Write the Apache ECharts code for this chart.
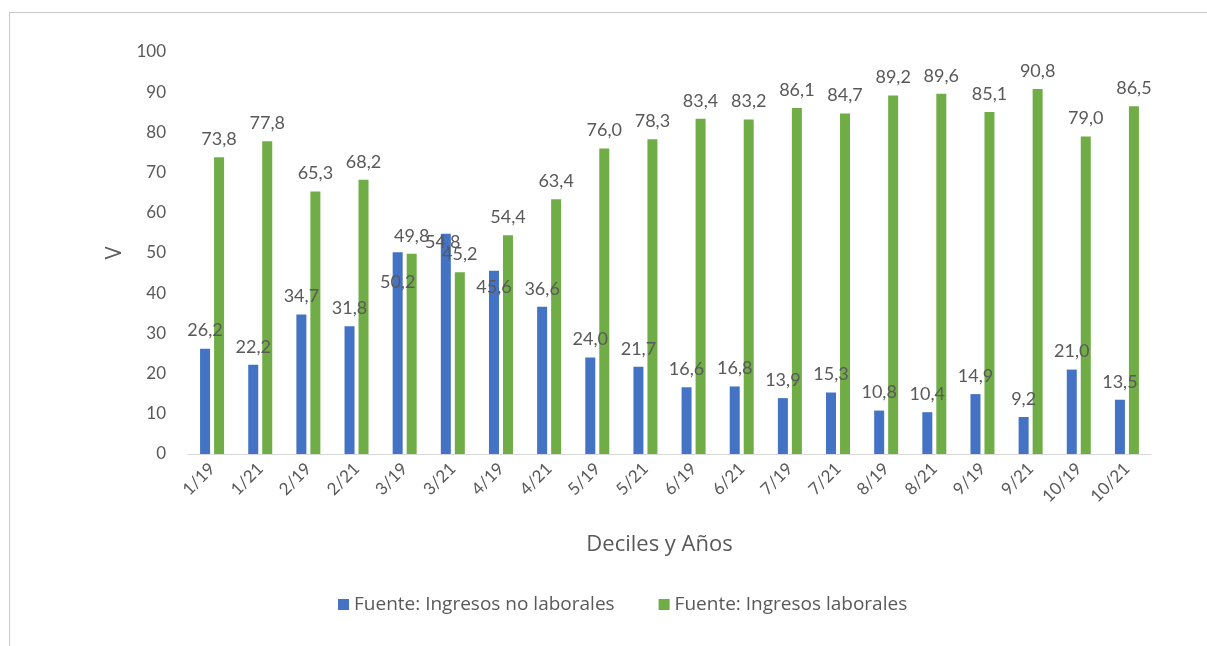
<!DOCTYPE html>
<html>
<head>
<meta charset="utf-8">
<script src="https://cdn.jsdelivr.net/npm/echarts@6/dist/echarts.min.js"></script>
<style>
  html, body { margin: 0; padding: 0; background: #fff; overflow: hidden; }
  #frame { position: absolute; left: 9px; top: 12px; width: 1400px; height: 800px; border: 1px solid #c9c9c9; }
  #chart { position: absolute; left: 0; top: 0; width: 1207px; height: 646px; }
</style>
</head>
<body>
<div id="frame"></div>
<div id="chart"></div>
<script>
// categories: decile / year
const categories = ["1/19", "1/21", "2/19", "2/21", "3/19", "3/21", "4/19", "4/21", "5/19", "5/21",
  "6/19", "6/21", "7/19", "7/21", "8/19", "8/21", "9/19", "9/21", "10/19", "10/21"];
const noLaborales = [26.2, 22.2, 34.7, 31.8, 50.2, 54.8, 45.6, 36.6, 24.0, 21.7,
  16.6, 16.8, 13.9, 15.3, 10.8, 10.4, 14.9, 9.2, 21.0, 13.5];
const laborales = [73.8, 77.8, 65.3, 68.2, 49.8, 45.2, 54.4, 63.4, 76.0, 78.3,
  83.4, 83.2, 86.1, 84.7, 89.2, 89.6, 85.1, 90.8, 79.0, 86.5];
const seriesNames = ["Fuente: Ingresos no laborales", "Fuente: Ingresos laborales"];

var myChart = echarts.init(document.getElementById("chart"));

// comma as decimal separator
const fmt = (p) => p.value.toFixed(1).replace(".", ",");
const textColor = "#595959";
const numFont = "Lato";

// labels that overlap the bars in the original
const blueData = noLaborales.map((v, i) => {
  if (i === 4) return { value: v, label: { position: "insideTop", offset: [0, 12] } };
  if (i === 6) return { value: v, label: { position: "insideTop", offset: [0, -2] } };
  if (i === 5) return { value: v, label: { offset: [-3, 26] } };
  return v;
});

var option = {
  animation: false,
  grid: { left: 188, right: 56, top: 52, bottom: 192 },
  legend: {
    bottom: 27,
    left: 333,
    itemWidth: 11,
    itemHeight: 11,
    itemGap: 44,
    icon: "rect",
    textStyle: { color: textColor, fontSize: 19, fontFamily: "Open Sans" },
  },
  xAxis: {
    type: "category",
    data: categories,
    name: "Deciles y Años",
    nameLocation: "middle",
    nameGap: 80,
    nameTextStyle: { color: textColor, fontSize: 22, fontFamily: "Open Sans", padding: [0, 20, 0, 0] },
    axisLine: { lineStyle: { color: "#d9d9d9", width: 1 } },
    axisTick: { show: false },
    axisLabel: { rotate: 45, color: textColor, fontSize: 17, fontFamily: numFont, margin: 12 },
  },
  yAxis: {
    type: "value",
    min: 0,
    max: 100,
    interval: 10,
    name: "V",
    nameLocation: "middle",
    nameGap: 60,
    nameTextStyle: { color: textColor, fontSize: 22, fontFamily: "Open Sans" },
    splitLine: { show: false },
    axisLine: { show: false },
    axisTick: { show: false },
    axisLabel: { color: textColor, fontSize: 17, fontFamily: numFont, margin: 22 },
  },
  series: [
    {
      name: seriesNames[0],
      type: "bar",
      data: blueData,
      barWidth: 10,
      barGap: "40%",
      itemStyle: { color: "#4472C4" },
      label: { show: true, position: "top", distance: 9, formatter: fmt, color: textColor, fontSize: 18, fontFamily: numFont },
    },
    {
      name: seriesNames[1],
      type: "bar",
      data: laborales,
      barWidth: 10,
      itemStyle: { color: "#70AD47" },
      label: { show: true, position: "top", distance: 9, formatter: fmt, color: textColor, fontSize: 18, fontFamily: numFont },
    },
  ],
};

myChart.setOption(option);
</script>
</body>
</html>
